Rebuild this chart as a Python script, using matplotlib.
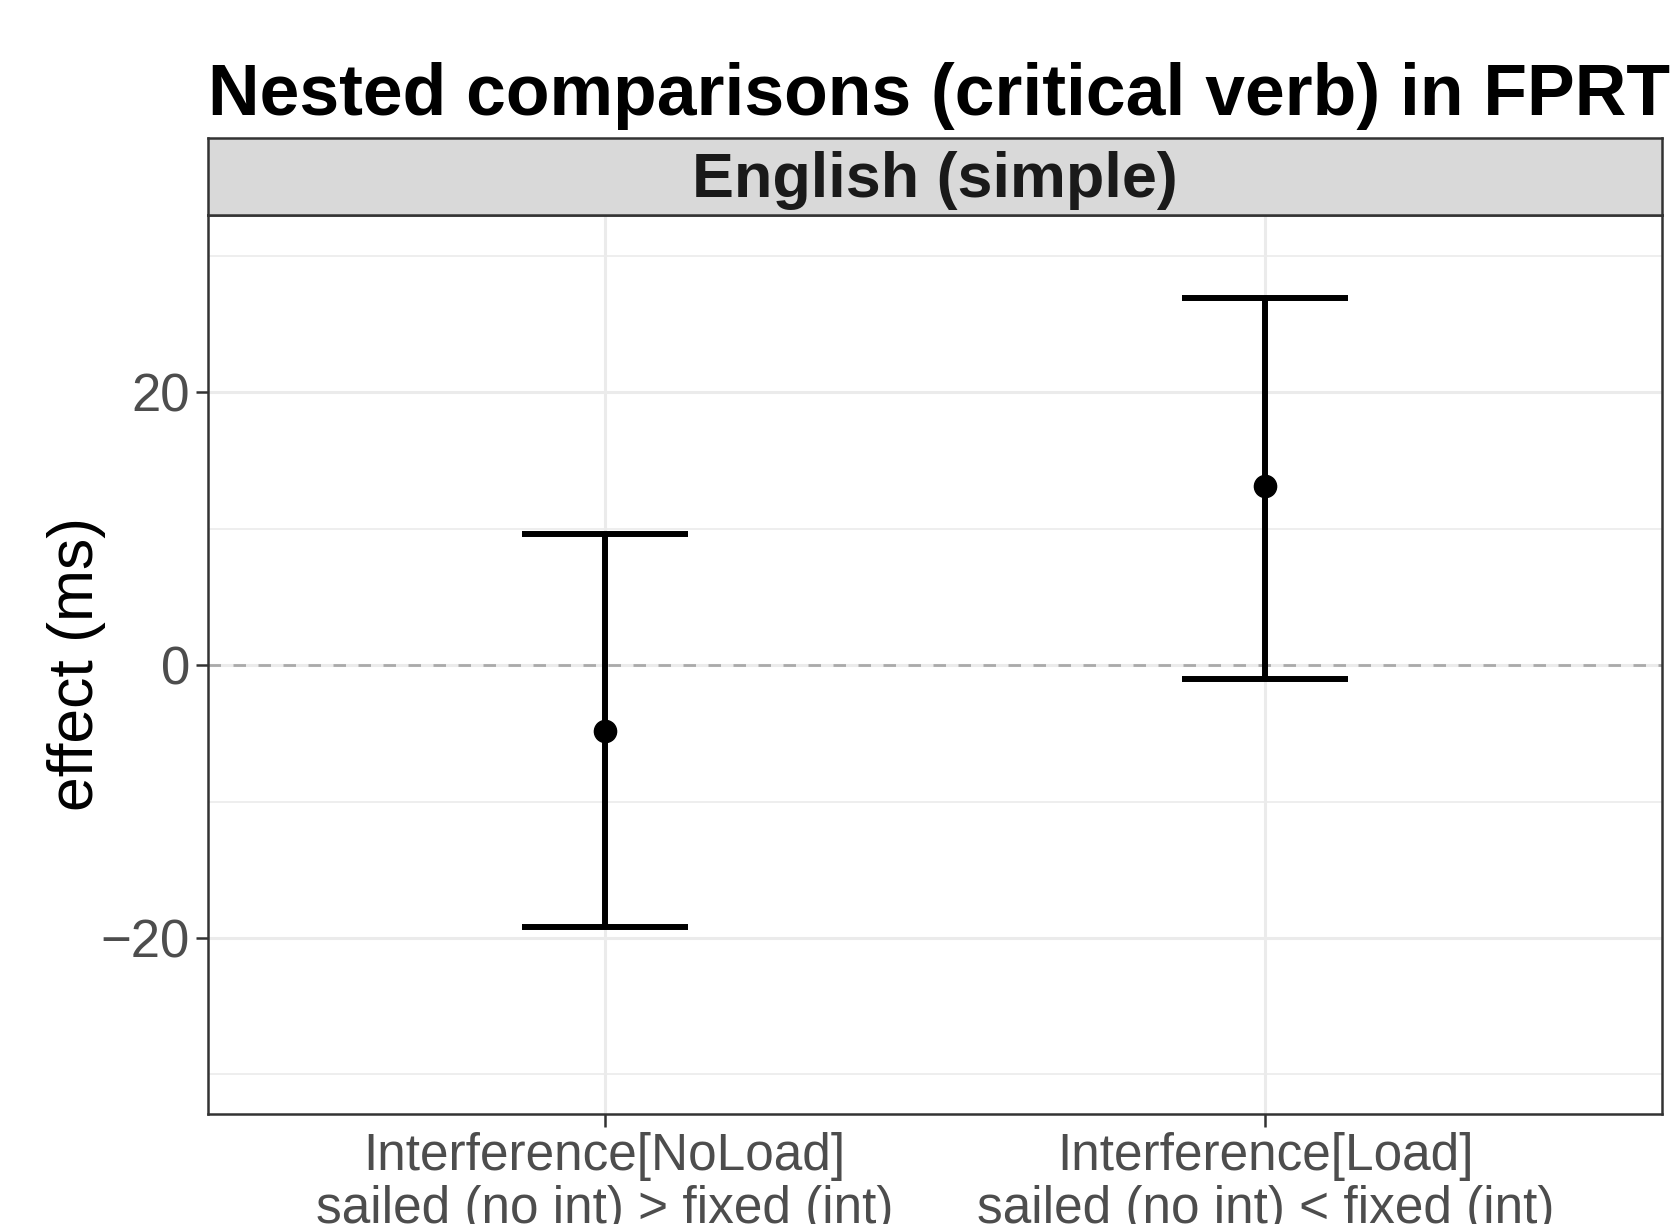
import matplotlib
matplotlib.use("Agg")
import matplotlib.pyplot as plt
from matplotlib.patches import Rectangle

plt.rcParams['font.family'] = ['Liberation Sans', 'DejaVu Sans']

categories = ["Interference[NoLoad]\nsailed (no int) > fixed (int)",
              "Interference[Load]\nsailed (no int) < fixed (int)"]
means = [-4.8, 13.1]
lower = [-19.2, -1.0]
upper = [9.6, 26.9]
panel_label = "English (simple)"
title = "Nested comparisons (critical verb) in FPRT"

W, H = 1675, 1224
fig = plt.figure(figsize=(W/100, H/100), dpi=100)
L, R, B, T = 208, 1662, 1114, 215
ax = fig.add_axes([L/W, 1-B/H, (R-L)/W, (B-T)/H])

x = list(range(1, len(categories)+1))
ax.set_xlim(0.4, 2.6)
ax.set_ylim(-32.9, 33.0)

for v in [-30, -10, 10, 30]:
    ax.axhline(v, color='#EBEBEB', lw=1.2, zorder=0)
for v in [-20, 0, 20]:
    ax.axhline(v, color='#EBEBEB', lw=2.2, zorder=0)
for xi in x:
    ax.axvline(xi, color='#EBEBEB', lw=2.2, zorder=0)
ax.axhline(0, color='#AAAAAA', lw=2.0, ls=(0, (4.5, 4.5)), zorder=1)

yerr = [[m - lo for m, lo in zip(means, lower)], [u - m for m, u in zip(means, upper)]]
ax.errorbar(x, means, yerr=yerr, fmt='none', ecolor='black', elinewidth=4.3,
            capsize=59.5, capthick=4.3, zorder=3)
ax.plot(x, means, 'o', color='black', ms=16, zorder=4)

ax.set_xticks(x)
ax.set_xticklabels(categories, fontsize=37, color='#4D4D4D', linespacing=1.1)
ax.set_yticks([-20, 0, 20])
ax.set_yticklabels(['\u221220', '0', '20'], fontsize=38, color='#4D4D4D')
ax.tick_params(axis='both', length=9, width=1.8, color='#333333')
ax.tick_params(axis='x', pad=4)
ax.tick_params(axis='y', pad=4)
ax.set_ylabel('effect (ms)', fontsize=45, labelpad=-4)

for s in ax.spines.values():
    s.set_color('#333333')
    s.set_linewidth(1.8)

# strip
sax = fig.add_axes([L/W, 1-T/H, (R-L)/W, (T-138)/H])
sax.set_xlim(0, 1); sax.set_ylim(0, 1)
sax.add_patch(Rectangle((0, 0), 1, 1, facecolor='#D9D9D9', edgecolor='none'))
sax.set_xticks([]); sax.set_yticks([])
for s in sax.spines.values():
    s.set_color('#333333'); s.set_linewidth(1.8)
sax.text(0.5, 0.45, panel_label, ha='center', va='center', fontsize=45.3,
         fontweight='bold', color='#1A1A1A')

fig.text(L/W, 1-115/H, title, ha='left', va='baseline', fontsize=51.5, fontweight='bold')

fig.savefig('out.png', dpi=100)
